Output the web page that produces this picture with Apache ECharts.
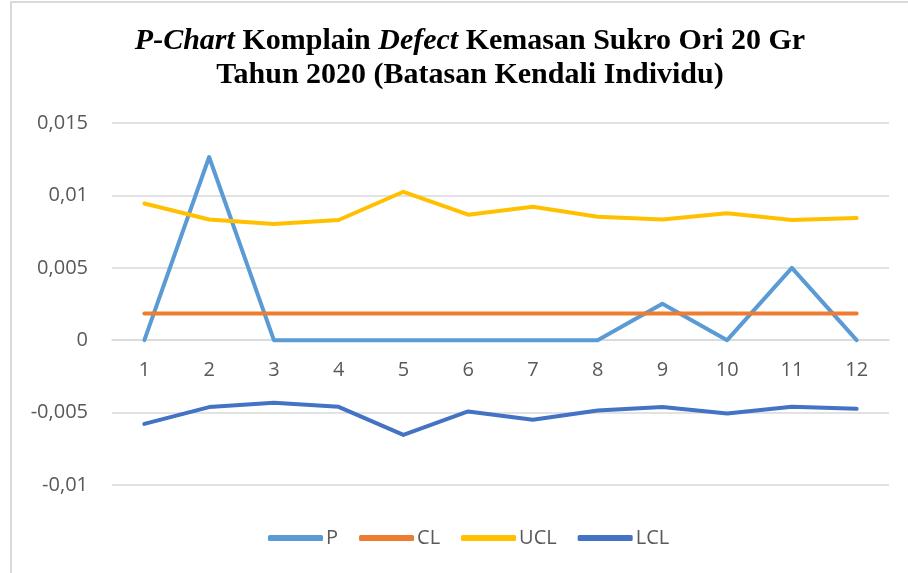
<!DOCTYPE html>
<html>
<head>
<meta charset="utf-8">
<script src="https://cdn.jsdelivr.net/npm/echarts@6/dist/echarts.min.js"></script>
<style>
  html, body { margin: 0; padding: 0; background: #fff; }
  #pchart { position: absolute; left: 0; top: 0; width: 908px; height: 573px; }
  .frame-top { position: absolute; left: 10px; top: 1px; width: 898px; height: 2px; background: #d9d9d9; }
  .frame-left { position: absolute; left: 10px; top: 1px; width: 2px; height: 572px; background: #d9d9d9; }
</style>
</head>
<body>
<div id="pchart"></div>
<div class="frame-top"></div>
<div class="frame-left"></div>
<script>
// data
const months = ['1', '2', '3', '4', '5', '6', '7', '8', '9', '10', '11', '12'];
const pValues = [0, 0.01265, 0, 0, 0, 0, 0, 0, 0.00252, 0, 0.005, 0];
const clValues = [0.00184, 0.00184, 0.00184, 0.00184, 0.00184, 0.00184, 0.00184, 0.00184, 0.00184, 0.00184, 0.00184, 0.00184];
const uclValues = [0.00944, 0.00834, 0.00802, 0.0083, 0.01025, 0.00867, 0.00922, 0.00853, 0.00834, 0.00876, 0.0083, 0.00844];
const lclValues = [-0.00578, -0.00462, -0.00432, -0.0046, -0.00654, -0.00492, -0.0055, -0.00486, -0.00462, -0.00506, -0.0046, -0.00474];
const yTicks = [-0.01, -0.005, 0, 0.005, 0.01, 0.015];

(function() {
  const chartDom = document.getElementById('pchart');
  const chart = echarts.init(chartDom);

  const textColor = '#595959';
  const gridColor = '#d9d9d9';
  const uiFont = '"Open Sans", "Liberation Sans", sans-serif';
  const titleFont = '"Liberation Serif", "Times New Roman", serif';

  const gridTop = 123;
  const gridBottom = 88;
  const yMin = yTicks[0];
  const yMax = yTicks[yTicks.length - 1];
  // category axis sits on the zero line (v6 keeps labels at the grid edge with onZero)
  const gridHeight = chartDom.clientHeight - gridTop - gridBottom;
  const zeroOffset = -gridHeight * (0 - yMin) / (yMax - yMin);

  const fmt = (v) => {
    if (Math.abs(v) < 1e-12) return '0';
    return String(+v.toFixed(3)).replace('.', ',');
  };

  const makeSeries = (name, data, color) => ({
    name: name,
    type: 'line',
    data: data,
    symbol: 'none',
    showSymbol: false,
    lineStyle: { color: color, width: 4, cap: 'round', join: 'round' },
    itemStyle: { color: color },
    animation: false
  });

  const option = {
    backgroundColor: '#fff',
    title: {
      text: '{i|P-Chart} Komplain {i|Defect} Kemasan Sukro Ori 20 Gr\nTahun 2020 (Batasan Kendali Individu)',
      left: 465,
      textAlign: 'center',
      top: 19,
      textStyle: {
        fontFamily: titleFont,
        fontWeight: 'bold',
        fontSize: 30,
        color: '#000',
        lineHeight: 34,
        rich: {
          i: {
            fontFamily: titleFont,
            fontWeight: 'bold',
            fontStyle: 'italic',
            fontSize: 30,
            color: '#000',
            lineHeight: 34
          }
        }
      }
    },
    legend: {
      bottom: 20,
      left: 263,
      icon: 'roundRect',
      itemWidth: 55,
      itemHeight: 6,
      itemGap: 21,
      textStyle: { color: textColor, fontFamily: uiFont, fontSize: 20, padding: [0, 0, 0, -2] },
      data: ['P', 'CL', 'UCL', 'LCL']
    },
    grid: {
      left: 112,
      right: 19,
      top: gridTop,
      bottom: gridBottom,
      containLabel: false
    },
    xAxis: {
      type: 'category',
      data: months,
      boundaryGap: true,
      offset: zeroOffset,
      axisLine: { onZero: false, lineStyle: { color: gridColor, width: 1.5 } },
      axisTick: { show: false },
      axisLabel: { color: textColor, fontFamily: uiFont, fontSize: 20, margin: 20 }
    },
    yAxis: {
      type: 'value',
      min: yMin,
      max: yMax,
      interval: 0.005,
      axisLine: { show: false },
      axisTick: { show: false },
      axisLabel: { color: textColor, fontFamily: uiFont, fontSize: 20, margin: 24, formatter: fmt },
      splitLine: { lineStyle: { color: gridColor, width: 1.5 } }
    },
    series: [
      makeSeries('P', pValues, '#5b9bd5'),
      makeSeries('CL', clValues, '#ed7d31'),
      makeSeries('UCL', uclValues, '#ffc000'),
      makeSeries('LCL', lclValues, '#4472c4')
    ],
    animation: false
  };

  chart.setOption(option);
  window.addEventListener('resize', () => chart.resize());
})();
</script>
</body>
</html>
